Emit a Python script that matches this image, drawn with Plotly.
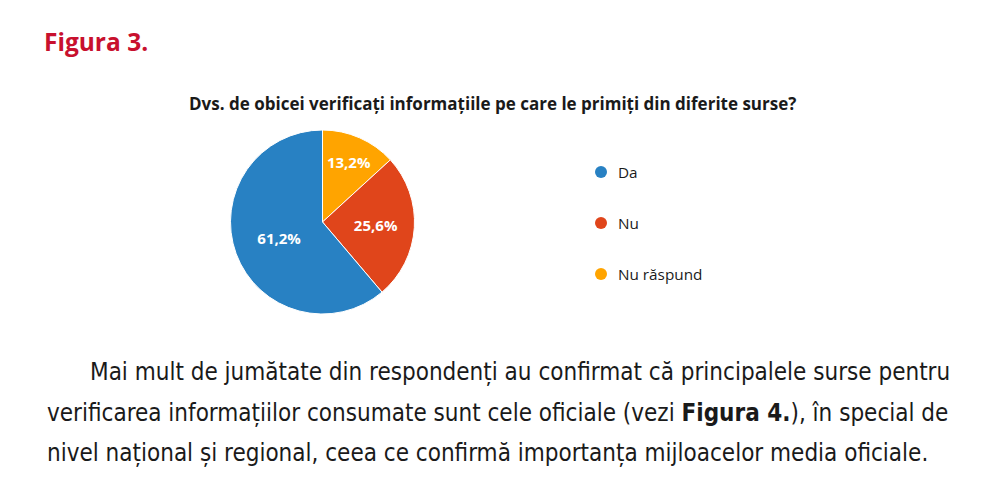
import plotly.graph_objects as go

categories = ["Da", "Nu", "Nu răspund"]
values = [61.2, 25.6, 13.2]
colors = ["#2881C3", "#E0451B", "#FFA400"]

title = "Dvs. de obicei verificați informațiile pe care le primiți din diferite surse?"
paragraph = [
    "Mai mult de jumătate din respondenți au confirmat că principalele surse pentru",
    "verificarea informațiilor consumate sunt cele oficiale (vezi <b>Figura 4.</b>), în special de",
    "nivel național și regional, ceea ce confirmă importanța mijloacelor media oficiale.",
]

W, H = 1003, 504
OFF = 8  # page body margin


def px(x):
    return (x - OFF) / W


def py(y):
    return 1 - (y - OFF) / H


labels_txt = [f"{v:.1f}%".replace(".", ",") for v in values]

fig = go.Figure()
# slices run clockwise from 12 o'clock in reverse legend order
fig.add_trace(go.Pie(
    labels=categories[::-1],
    values=values[::-1],
    text=labels_txt[::-1],
    sort=False,
    direction="clockwise",
    rotation=0,
    marker=dict(colors=colors[::-1], line=dict(color="white", width=1)),
    textinfo="text",
    textposition="inside",
    insidetextorientation="horizontal",
    textfont=dict(family="Open Sans", size=15, color="white", weight="bold"),
    domain=dict(x=[px(230), px(415)], y=[py(314), py(130)]),
    showlegend=False,
    hoverinfo="label+percent",
))

ann = [
    dict(text="<b>Figura 3.</b>", x=px(42), y=py(42), font=dict(family="Open Sans", size=24.5, color="#C8102E")),
    dict(text=title, x=px(492), y=py(103), xanchor="center",
         font=dict(family="Open Sans", size=17, color="#1a1a1a", weight=700)),
]
for i, line in enumerate(paragraph):
    ann.append(dict(text=line, x=px(88 if i == 0 else 45), y=py(372 + 40.5 * i),
                    font=dict(family="DejaVu Sans Condensed, Liberation Sans Narrow, Roboto",
                              size=24, color="#1a1a1a")))

shapes = []
for i, (c, col) in enumerate(zip(categories, colors)):
    yc = 172 + 51 * i
    shapes.append(dict(type="circle", xref="paper", yref="paper",
                       x0=px(595), x1=px(607), y0=py(yc + 6), y1=py(yc - 6),
                       fillcolor=col, line=dict(width=0)))
    ann.append(dict(text=c, x=px(616), y=py(yc), font=dict(family="Open Sans", size=15.3, color="#1a1a1a")))

for a in ann:
    a.setdefault("xanchor", "left")
    a.update(xref="paper", yref="paper", yanchor="middle", showarrow=False)

fig.update_layout(
    width=W, height=H,
    margin=dict(l=0, r=0, t=0, b=0),
    paper_bgcolor="white",
    annotations=ann,
    shapes=shapes,
)
fig.write_html("out.html")
